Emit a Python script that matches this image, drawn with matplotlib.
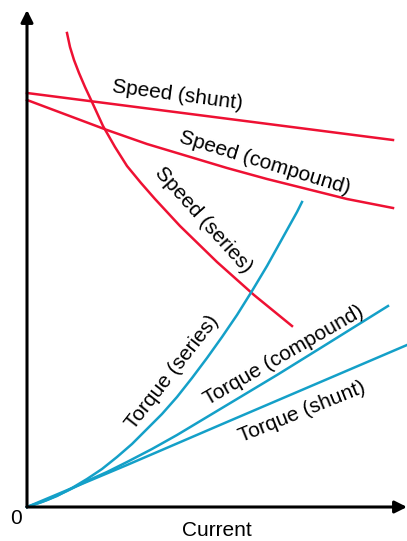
import matplotlib.pyplot as plt

plt.rcParams['font.family'] = ['Liberation Sans', 'DejaVu Sans']

red = '#EE1133'
blue = '#14A0C8'

# Speed curves (current, speed) - arbitrary units
speed_shunt_x = [0, 366]
speed_shunt_y = [414, 367]

speed_compound_x = [0, 40, 80, 120, 160, 200, 240, 280, 320, 366]
speed_compound_y = [407, 392, 377, 363, 351, 339, 328, 318, 308, 299]

speed_series_x = [40, 43, 47, 52, 58, 65, 76, 88, 100, 114, 128, 153, 190, 227, 265]
speed_series_y = [474, 460, 447, 434, 420, 405, 381, 360, 341, 324, 308, 281, 245, 212, 181]

# Torque curves
torque_series_x = [0, 15, 30, 45, 60, 75, 90, 105, 120, 135, 150, 165, 180,
                   195, 210, 225, 240, 255, 270, 275]
torque_series_y = [0, 5, 11, 19, 28, 38, 50, 63, 78, 93, 110, 129, 149,
                   170, 192, 216, 241, 268, 295, 305]

torque_compound_x = [0, 20, 40, 60, 80, 100, 125, 150, 175, 200, 250, 300, 361]
torque_compound_y = [0, 7, 16, 26, 35, 45, 58, 72, 87, 102, 132, 163, 201]

torque_shunt_x = [0, 100, 200, 380]
torque_shunt_y = [0, 42, 85, 162]

fig = plt.figure(figsize=(4.07, 5.41), dpi=100)
ax = fig.add_axes([27 / 407, 34 / 541, 380 / 407, 497 / 541])
ax.set_xlim(0, 380)
ax.set_ylim(0, 497)
ax.axis('off')

lw = 1.8
for xs, ys, c in [(speed_shunt_x, speed_shunt_y, red),
                  (speed_compound_x, speed_compound_y, red),
                  (speed_series_x, speed_series_y, red),
                  (torque_series_x, torque_series_y, blue),
                  (torque_compound_x, torque_compound_y, blue),
                  (torque_shunt_x, torque_shunt_y, blue)]:
    ax.plot(xs, ys, color=c, lw=lw, clip_on=False, solid_joinstyle='round')

# axes with arrow heads
arrow = dict(arrowstyle='-|>', mutation_scale=18, lw=2.2, color='black',
             shrinkA=0, shrinkB=0)
ax.annotate('', xy=(0, 1), xytext=(0, 0), xycoords='axes fraction',
            arrowprops=arrow, annotation_clip=False)
ax.annotate('', xy=(1, 0), xytext=(0, 0), xycoords='axes fraction',
            arrowprops=arrow, annotation_clip=False)

fs = 15
labels = [
    ('Speed (shunt)', 150, 412, -7.5),
    ('Speed (compound)', 238, 344, -17),
    ('Speed (series)', 176, 287, -48),
    ('Torque (series)', 145, 135, 52),
    ('Torque (compound)', 257, 152, 30),
    ('Torque (shunt)', 275, 95, 22),
]
for txt, x, y, rot in labels:
    ax.text(x, y, txt, fontsize=fs, rotation=rot, rotation_mode='anchor',
            ha='center', va='center')

ax.text(-11, -12, '0', fontsize=fs, ha='center', va='center')
ax.text(190, -23, 'Current', fontsize=fs, ha='center', va='center')

fig.savefig('out.png', dpi=100)
